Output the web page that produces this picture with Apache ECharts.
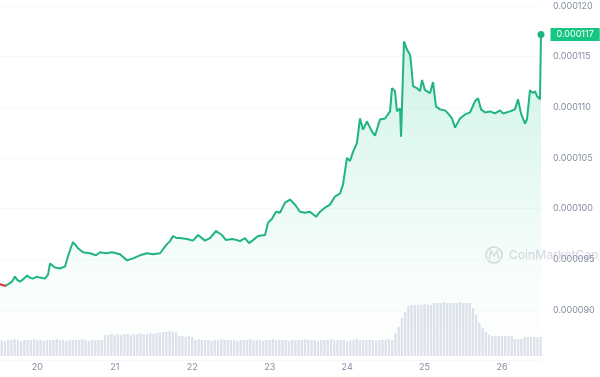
<!DOCTYPE html>
<html>
<head>
<meta charset="utf-8">
<script src="https://cdn.jsdelivr.net/npm/echarts@6/dist/echarts.min.js"></script>
<style>
  html, body { margin: 0; padding: 0; background: #fff; }
  #main { width: 600px; height: 377px; }
</style>
</head>
<body>
<div id="main"></div>
<script>
// price, in units of 1e-6 USD; time in days of the month
var priceDays = [
  19.518, 19.557, 19.595, 19.634, 19.673, 19.712, 19.737, 19.776, 19.828, 19.867,
  19.905, 19.944, 19.996, 20.034, 20.099, 20.138, 20.164, 20.228, 20.293, 20.357,
  20.396, 20.435, 20.461, 20.525, 20.590, 20.680, 20.758, 20.809, 20.887, 20.964,
  21.067, 21.158, 21.235, 21.326, 21.416, 21.493, 21.584, 21.623, 21.674, 21.713,
  21.752, 21.803, 21.842, 21.932, 22.010, 22.075, 22.165, 22.229, 22.307, 22.384,
  22.436, 22.513, 22.578, 22.617, 22.681, 22.733, 22.785, 22.849, 22.940, 22.978,
  23.030, 23.082, 23.133, 23.198, 23.262, 23.327, 23.392, 23.456, 23.521, 23.598,
  23.650, 23.714, 23.779, 23.843, 23.908, 23.947, 23.998, 24.037, 24.076, 24.127,
  24.166, 24.205, 24.256, 24.321, 24.360, 24.424, 24.489, 24.554, 24.579, 24.618,
  24.644, 24.683, 24.696, 24.734, 24.773, 24.812, 24.825, 24.851, 24.902, 24.941,
  24.967, 25.005, 25.070, 25.109, 25.147, 25.199, 25.264, 25.302, 25.354, 25.393,
  25.457, 25.522, 25.587, 25.651, 25.690, 25.729, 25.780, 25.845, 25.909, 25.974,
  26.012, 26.103, 26.167, 26.206, 26.245, 26.297, 26.322, 26.361, 26.400, 26.426,
  26.452, 26.490, 26.503
];
var priceValues = [
  92.55, 92.45, 92.4, 92.6, 92.8, 93.3, 93.0, 92.8, 93.1, 93.4,
  93.2, 93.1, 93.3, 93.2, 93.1, 93.5, 94.6, 94.2, 94.1, 94.3,
  95.3, 96.2, 96.7, 96.1, 95.7, 95.6, 95.4, 95.7, 95.6, 95.7,
  95.5, 94.9, 95.1, 95.4, 95.6, 95.5, 95.6, 96.0, 96.5, 96.8,
  97.3, 97.1, 97.1, 97.0, 96.85, 97.4, 96.85, 97.1, 97.8, 97.4,
  96.9, 97.0, 96.9, 96.8, 97.1, 96.6, 96.9, 97.3, 97.4, 98.6,
  99.0, 99.7, 99.6, 100.6, 100.9, 100.4, 99.7, 99.6, 99.7, 99.2,
  99.7, 100.1, 100.4, 101.2, 101.5, 102.4, 105.0, 104.7, 105.6, 106.5,
  108.9, 107.8, 108.6, 107.6, 107.2, 108.8, 108.9, 109.6, 111.9, 111.6,
  109.6, 109.9, 107.1, 116.5, 115.7, 115.2, 114.4, 112.1, 111.9, 111.6,
  112.7, 111.7, 111.4, 112.5, 110.1, 109.8, 109.7, 109.4, 108.9, 108.0,
  108.9, 109.3, 109.5, 110.6, 110.9, 109.8, 109.5, 109.6, 109.4, 109.7,
  109.4, 109.6, 109.8, 110.8, 109.4, 108.4, 108.8, 111.7, 111.4, 111.6,
  111.1, 110.8, 117.2
];
// hourly volume (relative units), first bar at day 19.52
var volumeStart = 19.52;
var volumeValues = [
  16, 15, 16, 16, 17, 16, 15, 16, 16, 16, 17, 16, 16, 15, 16, 16, 16, 17, 16, 16,
  15, 16, 16, 16, 16, 17, 16, 15, 16, 16, 16, 16,
  21, 21, 22, 21,
  22, 21, 22, 22, 21, 22, 22, 23, 22, 22, 23, 22, 23, 23,
  24, 24, 25, 24, 24,
  20, 20, 19, 20, 19,
  16, 17, 16, 16, 16, 15, 16, 16, 17, 16, 16, 16, 16, 15, 16, 16, 16, 17, 16, 16,
  16, 15, 16, 16, 17, 16, 16, 16, 16, 15, 16, 16, 16, 16, 17, 16, 16, 16, 15, 16,
  16, 16, 17, 16, 16, 16, 16, 15, 16, 16, 17, 16, 16, 16, 16, 16, 15, 16, 16, 16,
  17, 16,
  23, 29, 38, 44, 50, 51, 51,
  51, 51, 52, 51, 51,
  53, 53, 53, 54, 53, 53, 53, 53, 54, 53, 53, 53,
  48, 41, 33, 28, 24, 21,
  20, 20, 20, 20, 20, 20, 20,
  17, 17, 17,
  19, 19, 19, 19, 19, 19
];
var dayTicks = [20, 21, 22, 23, 24, 25, 26];

var GREEN = '#16c784';
var LINE = '#20b47f';
var RED = '#ea3943';
var LABEL = '#858ca2';

var fmt = function (v) { return (v / 1e6).toFixed(6); };
var lastIndex = priceDays.length - 1;
var priceData = priceDays.map(function (d, i) {
  if (i === lastIndex) {
    return {
      value: [d, priceValues[i]],
      symbolSize: 7,
      label: {
        show: true, position: 'right', distance: 6,
        formatter: function (p) { return fmt(p.value[1]); },
        backgroundColor: GREEN, color: '#fff', fontSize: 9, padding: [2, 6]
      }
    };
  }
  return [d, priceValues[i]];
});
// the first few points sit under the opening price: drawn red
var openData = priceDays.slice(0, 3).map(function (d, i) { return [d, priceValues[i]]; });
var volumeData = volumeValues.map(function (v, i) { return [volumeStart + i / 24 + 1 / 48, v]; });

var myChart = echarts.init(document.getElementById('main'));
var option = {
  animation: false,
  backgroundColor: '#fff',
  textStyle: { fontFamily: 'Inter' },
  grid: [
    { left: 0, right: 59, top: 6, bottom: 16.3 },
    { left: 0, right: 59, top: 300, bottom: 21 }
  ],
  xAxis: [
    { type: 'value', gridIndex: 0, min: 19.518, max: 26.503, show: false },
    {
      type: 'value', gridIndex: 1, min: 19.518, max: 26.503,
      axisLine: { show: false }, axisTick: { show: false }, splitLine: { show: false },
      axisLabel: { customValues: dayTicks, color: LABEL, fontSize: 9, margin: 7 }
    }
  ],
  yAxis: [
    {
      type: 'value', gridIndex: 0, position: 'right', min: 85, max: 120, interval: 5,
      axisLine: { show: false }, axisTick: { show: false },
      splitLine: { lineStyle: { color: '#f8f8fa' } },
      axisLabel: {
        color: LABEL, fontSize: 9, margin: 12,
        formatter: function (v) { return v === 85 ? '' : fmt(v); }
      }
    },
    { type: 'value', gridIndex: 1, min: 0, max: 56, show: false }
  ],
  graphic: [
    {
      type: 'group', z: 0, silent: true,
      children: [
        { type: 'circle', shape: { cx: 494, cy: 255, r: 8 }, style: { fill: 'none', stroke: '#d9dce3', lineWidth: 1.6 } },
        { type: 'polyline', shape: { points: [[489, 259], [491, 251], [494, 256], [497, 251], [499, 259]] }, style: { fill: 'none', stroke: '#d9dce3', lineWidth: 1.4 } },
        { type: 'text', x: 509, y: 255, style: { text: 'CoinMarketCap', fill: '#d9dce3', font: '500 12px Inter', verticalAlign: 'middle' } }
      ]
    }
  ],
  series: [
    {
      type: 'line',
      xAxisIndex: 0, yAxisIndex: 0,
      data: priceData,
      symbol: 'circle',
      symbolSize: 0,
      showSymbol: true,
      showAllSymbol: true,
      lineStyle: { width: 2, color: LINE },
      itemStyle: { color: LINE },
      areaStyle: {
        color: new echarts.graphic.LinearGradient(0, 0, 0, 1, [
          { offset: 0, color: 'rgba(22,199,132,0.30)' },
          { offset: 0.75, color: 'rgba(22,199,132,0.04)' },
          { offset: 1, color: 'rgba(22,199,132,0)' }
        ])
      },
      z: 3
    },
    {
      type: 'line',
      xAxisIndex: 0, yAxisIndex: 0,
      data: openData,
      showSymbol: false,
      lineStyle: { width: 2, color: RED },
      z: 4
    },
    {
      type: 'bar',
      xAxisIndex: 1, yAxisIndex: 1,
      data: volumeData,
      barWidth: 2.4,
      itemStyle: { color: '#dfe2eb' },
      z: 2
    }
  ]
};
myChart.setOption(option);
</script>
</body>
</html>
